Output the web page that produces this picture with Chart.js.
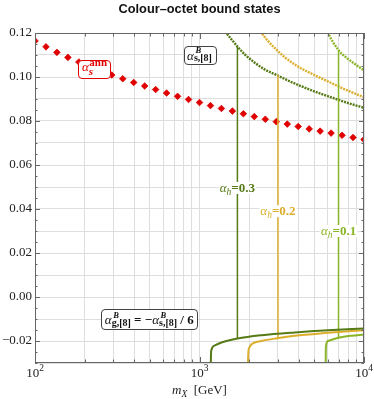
<!DOCTYPE html>
<html><head><meta charset="utf-8">
<script src="https://cdn.jsdelivr.net/npm/chart.js@4"></script>
<style>html,body{margin:0;padding:0;background:#fff}</style>
</head><body>
<canvas id="c" width="374" height="399"></canvas>
<script>
// ---------- data ----------
const annMass  = [100,116.6,135.9,158.5,184.8,215.4,251.2,292.9,341.5,398.1,464.2,541.2,631,735.6,857.7,1000,1166,1359,1585,1848,2154,2512,2929,3415,3981,4642,5412,6310,7356,8577,10000];
const annAlpha = [0.1164,0.1137,0.1112,0.1089,0.1068,0.1048,0.1028,0.1009,0.0992,0.0975,0.0959,0.0943,0.0927,0.0912,0.0898,0.0884,0.0870,0.0857,0.0845,0.0833,0.0820,0.0808,0.0797,0.0786,0.0775,0.0764,0.0754,0.0745,0.0735,0.0725,0.0716];

// alpha_h = 0.3
const darkUpMass  = [1172,1180,1240,1360,1459,1566,1703,1885,2167,2493,2868,3299,3882,4898,6190,7817,10000];
const darkUpAlpha = [0.200,0.145,0.132,0.1245,0.1200,0.1171,0.1138,0.1103,0.1065,0.1034,0.1013,0.0991,0.0967,0.0937,0.0910,0.0884,0.0860];
const darkLowMass  = [1170,1172,1180,1240,1360,1703,2382,3793,6039,10000];
const darkLowAlpha = [-0.045,-0.030,-0.0242,-0.0220,-0.0207,-0.0189,-0.0174,-0.0161,-0.0151,-0.0143];
// alpha_h = 0.2
const yelUpMass  = [1975,1995,2071,2200,2382,2612,2938,3299,3882,4898,6190,7817,10000];
const yelUpAlpha = [0.200,0.141,0.129,0.1235,0.1200,0.1163,0.1124,0.1090,0.1052,0.1012,0.0976,0.0941,0.0908];
const yelLowMass  = [1970,1972,1995,2071,2382,2978,3793,6039,10000];
const yelLowAlpha = [-0.045,-0.0303,-0.0235,-0.0215,-0.0200,-0.0187,-0.0176,-0.0163,-0.0151];
// alpha_h = 0.1
const lgtUpMass  = [5840,5850,5870,6039,6950,7817,8990,10000];
const lgtUpAlpha = [0.250,0.180,0.135,0.1201,0.1125,0.1088,0.1054,0.1030];
const lgtLowMass  = [5835,5850,5870,6039,7015,8390,10000];
const lgtLowAlpha = [-0.045,-0.0303,-0.0225,-0.0200,-0.0185,-0.0176,-0.0171];

// vertical markers
const vertMass   = [1700, 3000, 7000];
const vertTop    = [0.1138, 0.1010, 0.1120];
const vertBottom = [-0.0189, -0.0187, -0.0185];
const hValues    = ['0.3','0.2','0.1'];
const hLabelY    = [0.0496, 0.0390, 0.0300];

// ticks
const xGridValues = [100,200,300,400,500,600,700,800,900,1000,2000,3000,4000,5000,6000,7000,8000,9000,10000];
const xTickValues = [100,1000,10000];
const xTickExp    = ['2','3','4'];
const yGridValues = [-0.03,-0.02,-0.01,0,0.01,0.02,0.03,0.04,0.05,0.06,0.07,0.08,0.09,0.10,0.11,0.12];
const yTickValues = [-0.02,0,0.02,0.04,0.06,0.08,0.10,0.12];
const yTickLabels = ['\u22120.02','0.00','0.02','0.04','0.06','0.08','0.10','0.12'];

// ---------- styles ----------
const RED = '#e00000', DARK = '#567a16', YEL = '#dcae2c', LGT = '#8ab526';
const SERIF = '"Liberation Serif","DejaVu Serif",serif';
const F = (style, size) => style + ' ' + size + 'px ' + SERIF;

const pts = (xs, ys) => xs.map((x, i) => ({x: x, y: ys[i]}));
const curve = (xs, ys, color, dashed) => ({
  data: pts(xs, ys), showLine: true, pointRadius: 0, borderColor: color,
  borderWidth: dashed ? 2.4 : 2, borderDash: dashed ? [2, 1] : [],
  cubicInterpolationMode: 'monotone', fill: false
});
const vcolors = [DARK, YEL, LGT];
const verticals = vertMass.map((m, i) => ({
  data: [{x: m, y: vertBottom[i]}, {x: m, y: vertTop[i]}], showLine: true, pointRadius: 0,
  borderColor: vcolors[i], borderWidth: 1.5, tension: 0, fill: false
}));

// ---------- rich text helpers ----------
function measure(ctx, parts) {
  let w = 0;
  for (const p of parts) {
    if (p.t !== undefined) { ctx.font = p.f; p.w = ctx.measureText(p.t).width; }
    else {
      ctx.font = p.supF; const a = ctx.measureText(p.sup).width + (p.supDx || 0);
      ctx.font = p.subF; const b = ctx.measureText(p.sub).width;
      p.w = Math.max(a, b);
    }
    w += p.w;
  }
  return w;
}
function drawParts(ctx, parts, x, y, color) {
  ctx.fillStyle = color; ctx.textBaseline = 'alphabetic'; ctx.textAlign = 'left';
  let cx = x;
  for (const p of parts) {
    if (p.t !== undefined) { ctx.font = p.f; ctx.fillText(p.t, cx, y + (p.dy || 0)); }
    else {
      ctx.font = p.supF; ctx.fillText(p.sup, cx + (p.supDx || 0), y + p.supDy);
      ctx.font = p.subF; ctx.fillText(p.sub, cx, y + p.subDy);
    }
    cx += p.w;
  }
}
function rrect(ctx, x, y, w, h, r) {
  ctx.beginPath();
  ctx.moveTo(x + r, y); ctx.lineTo(x + w - r, y); ctx.arcTo(x + w, y, x + w, y + r, r);
  ctx.lineTo(x + w, y + h - r); ctx.arcTo(x + w, y + h, x + w - r, y + h, r);
  ctx.lineTo(x + r, y + h); ctx.arcTo(x, y + h, x, y + h - r, r);
  ctx.lineTo(x, y + r); ctx.arcTo(x, y, x + r, y, r); ctx.closePath();
}
function labelBox(ctx, parts, cx, cy, h, color, border, baseOff) {
  const w = measure(ctx, parts);
  const bw = w + 7;
  ctx.save();
  rrect(ctx, Math.round(cx - bw / 2) + 0.5, Math.round(cy - h / 2) + 0.5, Math.round(bw), h, 3.5);
  ctx.fillStyle = '#fff'; ctx.fill();
  ctx.lineWidth = 1; ctx.strokeStyle = border; ctx.stroke();
  drawParts(ctx, parts, cx - w / 2, cy + baseOff, color);
  ctx.restore();
}
const sB = (sub) => ({sup: 'B', sub: sub, supF: F('bold italic', 8.5), subF: F('bold', 10), supDy: -6.6, subDy: 1.3, supDx: 1.5});

const overlay = {
  id: 'overlay',
  afterDatasetsDraw(chart) {
    const ctx = chart.ctx, a = chart.chartArea, xs = chart.scales.x, ys = chart.scales.y;
    ctx.save();
    // frame
    ctx.strokeStyle = '#666'; ctx.lineWidth = 1;
    ctx.strokeRect(Math.round(a.left) + 0.5, Math.round(a.top) + 0.5, Math.round(a.right - a.left) - 1, Math.round(a.bottom - a.top) - 1);
    // x ticks (inward, top and bottom)
    ctx.beginPath();
    for (const v of xGridValues) {
      const px = Math.round(xs.getPixelForValue(v)) + 0.5;
      const len = xTickValues.includes(v) ? 6 : 3.5;
      ctx.moveTo(px, a.bottom); ctx.lineTo(px, a.bottom - len);
      ctx.moveTo(px, a.top); ctx.lineTo(px, a.top + len);
    }
    // y ticks every 0.005
    for (let k = -6; k <= 24; k++) {
      const v = k * 0.005;
      const py = Math.round(ys.getPixelForValue(v)) + 0.5;
      const len = (k % 4 === 0) ? 5 : 2.5;
      ctx.moveTo(a.left, py); ctx.lineTo(a.left + len, py);
      ctx.moveTo(a.right, py); ctx.lineTo(a.right - len, py);
    }
    ctx.stroke();

    // x tick labels 10^n
    xTickValues.forEach((v, i) => {
      const parts = [{t: '10', f: F('', 13)}, {t: xTickExp[i], f: F('', 9.5), dy: -6}];
      const w = measure(ctx, parts);
      drawParts(ctx, parts, xs.getPixelForValue(v) - w / 2, 377, '#222');
    });

    // alpha_h labels on vertical lines
    hValues.forEach((hv, i) => {
      const parts = [{t: '\u03b1', f: F('italic', 13)}, {t: 'h', f: F('italic', 9.5), dy: 3}, {t: '=' + hv, f: F('bold', 13)}];
      const w = measure(ctx, parts);
      const cx = xs.getPixelForValue(vertMass[i]), cy = ys.getPixelForValue(hLabelY[i]);
      ctx.fillStyle = '#fff'; ctx.fillRect(cx - w / 2 - 1, cy - 6, w + 2, 12);
      drawParts(ctx, parts, cx - w / 2, cy + 4, vcolors[i]);
    });

    // alpha_s^ann box
    labelBox(ctx, [{t: '\u03b1', f: F('italic', 13)},
      {sup: 'ann', sub: 's', supF: F('bold', 11), subF: F('bold italic', 11), supDy: -5, subDy: 3.4, supDx: 0.5}],
      xs.getPixelForValue(230), ys.getPixelForValue(0.1038), 18, RED, RED, 2.8);
    // alpha^B_{s,[8]} box
    labelBox(ctx, [{t: '\u03b1', f: F('italic', 13)}, sB('s,[8]')],
      xs.getPixelForValue(1000), ys.getPixelForValue(0.1099), 18, '#111', '#444', 4.6);
    // relation box
    labelBox(ctx, [{t: '\u03b1', f: F('italic', 13)}, sB('g,[8]'),
      {t: ' = \u2212', f: F('bold', 13)},
      {t: '\u03b1', f: F('italic', 13)}, sB('s,[8]'),
      {t: ' / 6', f: F('bold', 13)}],
      xs.getPixelForValue(495), ys.getPixelForValue(-0.0101), 20, '#111', '#444', 5);

    // title
    ctx.font = 'bold 12.8px "Liberation Sans", Arial, sans-serif';
    ctx.fillStyle = '#111'; ctx.textAlign = 'center'; ctx.textBaseline = 'middle';
    ctx.fillText('Colour\u2013octet bound states', (a.left + a.right) / 2, 9);

    // x axis title
    const tparts = [{t: 'm', f: F('italic', 13)}, {t: 'X', f: F('italic', 9.5), dy: 3}, {t: '  [GeV]', f: F('', 13)}];
    const tw = measure(ctx, tparts);
    drawParts(ctx, tparts, (a.left + a.right) / 2 - tw / 2, 394, '#222');
    ctx.restore();
  }
};

new Chart(document.getElementById('c'), {
  type: 'scatter',
  data: {
    datasets: [
      curve(darkLowMass, darkLowAlpha, DARK, false),
      curve(yelLowMass, yelLowAlpha, YEL, false),
      curve(lgtLowMass, lgtLowAlpha, LGT, false),
      ...verticals,
      curve(darkUpMass, darkUpAlpha, DARK, true),
      curve(yelUpMass, yelUpAlpha, YEL, true),
      curve(lgtUpMass, lgtUpAlpha, LGT, true),
      {data: pts(annMass, annAlpha), showLine: false, pointStyle: 'rectRot', pointRadius: 3.3,
       pointBackgroundColor: RED, pointBorderColor: RED, pointBorderWidth: 0.8}
    ]
  },
  options: {
    responsive: false, animation: false, devicePixelRatio: 1,
    layout: {padding: {top: 33, right: 10, left: 0, bottom: 0}},
    plugins: {legend: {display: false}, title: {display: false}, tooltip: {enabled: false}},
    scales: {
      x: {
        type: 'logarithmic', min: 100, max: 10000,
        afterBuildTicks: s => { s.ticks = xGridValues.map(v => ({value: v})); },
        afterFit: s => { s.height = 36; },
        ticks: {display: false},
        grid: {color: '#dedede', lineWidth: 1, drawTicks: false},
        border: {display: false}
      },
      y: {
        type: 'linear', min: -0.03, max: 0.12,
        afterBuildTicks: s => { s.ticks = yGridValues.map(v => ({value: v})); },
        afterFit: s => { s.width = 35; },
        ticks: {
          autoSkip: false, padding: 3, color: '#222', font: {family: SERIF, size: 13},
          callback: v => { const i = yTickValues.findIndex(t => Math.abs(t - v) < 1e-9); return i >= 0 ? yTickLabels[i] : ''; }
        },
        grid: {color: '#dedede', lineWidth: 1, drawTicks: false},
        border: {display: false}
      }
    }
  },
  plugins: [overlay]
});
</script>
</body></html>
